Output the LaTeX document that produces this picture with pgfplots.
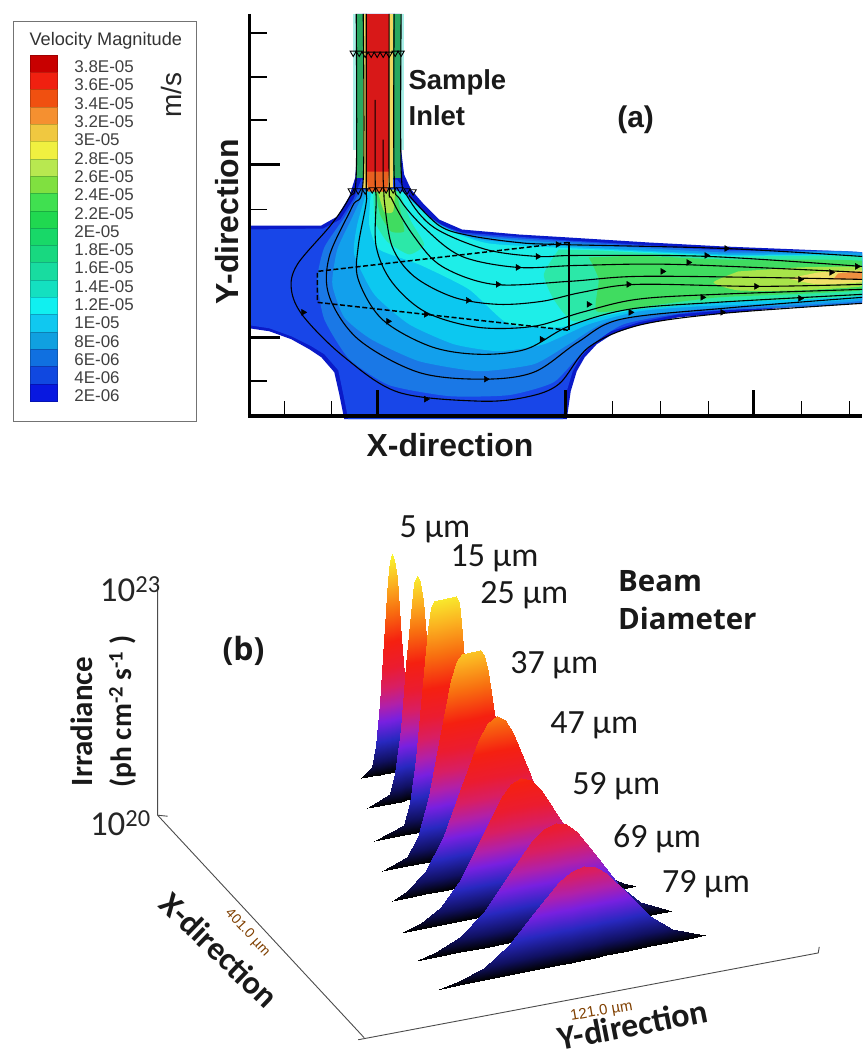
\documentclass[border=0pt]{standalone}
\usepackage{fontspec}
\setmainfont{Liberation Sans}
\newfontfamily\car{Carlito}
\newfontfamily\ops{Open Sans}
\usepackage{pgfplots}
\pgfplotsset{compat=1.18}
\newcommand{\fs}[1]{\fontsize{#1}{#1}\selectfont}
\newcommand{\poly}[2]{\addplot[fill=#1,draw=none,smooth,tension=.35] coordinates {#2} --cycle;}
\newcommand{\pol}[2]{\addplot[fill=#1,draw=none] coordinates {#2} --cycle;}
\newcommand{\rect}[5]{\addplot[fill=#5,draw=none] coordinates {(#1,#2)(#3,#2)(#3,#4)(#1,#4)} --cycle;}
\newcommand{\band}[3]{\addplot[fill=#1,draw=#1!80!black,line width=.4pt] coordinates {(30,#2)(57,#2)(57,#3)(30,#3)} --cycle;}
\newcommand{\sline}[1]{\addplot[black,line width=1.1pt,smooth,tension=.55] coordinates {#1};}
\newcommand{\seg}[5]{\addplot[black,line width=#5] coordinates {(#1,#2)(#3,#4)};}
\newcommand{\leg}[2]{\node[anchor=west,text=black!75,font=\fs{17}] at (axis cs:71,#1) {#2};}
\newcommand{\lab}[3]{\node[anchor=west,font=\car\fs{34},text=black!90] at (axis cs:#1,#2) {#3};}
\newcommand{\peak}[3]{\addplot[surf,shader=interp,mesh/rows=2,mesh/cols=#1,point meta=explicit] coordinates {#2 #3};}
\definecolor{cB}{HTML}{0A1AC8}
\definecolor{cA}{HTML}{1846E8}
\definecolor{cC}{HTML}{1A78E6}
\definecolor{cD}{HTML}{12A0EC}
\definecolor{cE}{HTML}{0CC8F0}
\definecolor{cF}{HTML}{1EEEE8}
\definecolor{cG}{HTML}{2CE8A8}
\definecolor{cH}{HTML}{40DC60}
\definecolor{cI}{HTML}{A8E44A}
\definecolor{cJ}{HTML}{F0E068}
\definecolor{cK}{HTML}{F09040}
\definecolor{iG}{HTML}{28A860}
\definecolor{iY}{HTML}{F0D860}
\definecolor{iR}{HTML}{D81818}
\definecolor{iO}{HTML}{E86020}
\definecolor{iF}{HTML}{A8F0E8}
\definecolor{la}{HTML}{C80000}
\definecolor{lb}{HTML}{F02010}
\definecolor{lc}{HTML}{F05010}
\definecolor{ld}{HTML}{F59030}
\definecolor{le}{HTML}{F0C840}
\definecolor{lf}{HTML}{F0F040}
\definecolor{lg}{HTML}{B8E850}
\definecolor{lh}{HTML}{80E040}
\definecolor{li}{HTML}{40E050}
\definecolor{lj}{HTML}{20D850}
\definecolor{lk}{HTML}{18D868}
\definecolor{ll}{HTML}{18D880}
\definecolor{lm}{HTML}{18DCA0}
\definecolor{ln}{HTML}{14E0C0}
\definecolor{lo}{HTML}{10F0F0}
\definecolor{lp}{HTML}{10C8F0}
\definecolor{lq}{HTML}{10A0E0}
\definecolor{lr}{HTML}{1070E0}
\definecolor{ls}{HTML}{1048E0}
\definecolor{lt}{HTML}{0818E0}
\begin{document}
\begin{tikzpicture}
\begin{axis}[
  scale only axis,width=864pt,height=1055pt,
  xmin=0,xmax=864,ymin=0,ymax=1055,y dir=reverse,
  hide axis,clip mode=individual,
  point meta min=0,point meta max=1,
  colormap={beam}{
    rgb255(0)=(0,0,0) rgb255(.06)=(16,16,96) rgb255(.15)=(40,40,192) rgb255(.24)=(120,32,224) rgb255(.31)=(176,32,170) rgb255(.39)=(216,30,100) rgb255(.48)=(235,28,48) rgb255(.6)=(245,32,16) rgb255(.74)=(248,112,16) rgb255(.86)=(251,176,32) rgb255(1)=(248,248,48)},
]
\addplot[fill=white,draw=none] coordinates {(0,0)(864,0)(864,1055)(0,1055)} --cycle;

% --- legend box
\addplot[draw=black!55,fill=white,line width=1pt] coordinates {(14,22)(197,22)(197,422)(14,422)} --cycle;
\band{la}{55}{72.4}
\band{lb}{72.4}{89.7}
\band{lc}{89.7}{107}
\band{ld}{107}{124.4}
\band{le}{124.4}{141.8}
\band{lf}{141.8}{159.1}
\band{lg}{159.1}{176.5}
\band{lh}{176.5}{193.8}
\band{li}{193.8}{211.2}
\band{lj}{211.2}{228.5}
\band{lk}{228.5}{245.9}
\band{ll}{245.9}{263.2}
\band{lm}{263.2}{280.6}
\band{ln}{280.6}{297.9}
\band{lo}{297.9}{315.3}
\band{lp}{315.3}{332.6}
\band{lq}{332.6}{350}
\band{lr}{350}{367.3}
\band{ls}{367.3}{384.7}
\band{lt}{384.7}{402}
\node[font=\fs{18.2},text=black!80] at (axis cs:106,41) {Velocity Magnitude};
\leg{67}{3.8E-05}\leg{85.3}{3.6E-05}\leg{103.7}{3.4E-05}\leg{122}{3.2E-05}\leg{140.3}{3E-05}
\leg{158.7}{2.8E-05}\leg{177}{2.6E-05}\leg{195.3}{2.4E-05}\leg{213.7}{2.2E-05}\leg{232}{2E-05}
\leg{250.3}{1.8E-05}\leg{268.7}{1.6E-05}\leg{287}{1.4E-05}\leg{305.3}{1.2E-05}\leg{323.7}{1E-05}
\leg{342}{8E-06}\leg{360.3}{6E-06}\leg{378.7}{4E-06}\leg{397}{2E-06}
\node[rotate=90,font=\fs{28},text=black!85] at (axis cs:172,95) {m/s};

% --- panel (a) contour bands
\pol{cB}{(250,226)(322,226)(338,217)(350,197)(356,178)(358,150)(358,14)(401,14)(402,150)(405,175)(412,190)(425,205)(440,220)(463,230)(520,235)(570,238)(650,243)(725,247)(800,250)(870,253)(870,303)(800,307)(725,314)(680,318)(640,326)(615,334)(598,345)(586,358)(578,372)(572,392)(568,420)(345,420)(340,395)(335,373)(322,358)(310,350)(292,340)(270,332)(250,329)}
\pol{cA}{(250,230)(324,229)(341,220)(354,200)(362,180)(398,180)(408,193)(422,209)(438,224)(463,233)(570,241)(725,250)(870,256)(870,300)(725,311)(680,315)(640,323)(612,332)(595,343)(582,358)(574,372)(568,392)(564,420)(349,420)(344,395)(339,371)(325,355)(312,347)(292,337)(270,329)(250,326)}
\poly{cC}{(362,190)(345,218)(325,248)(318,280)(325,320)(350,360)(390,386)(450,397)(510,396)(555,383)(585,352)(625,325)(700,312)(870,302)(870,254)(725,251)(570,242)(463,234)(430,217)(405,195)}
\poly{cD}{(366,190)(352,220)(338,250)(333,285)(345,318)(372,340)(420,362)(480,372)(535,365)(570,345)(610,322)(700,310)(870,300)(870,255)(725,253)(570,244)(470,236)(430,220)(405,193)}
\poly{cE}{(368,190)(358,225)(355,255)(375,295)(410,325)(455,345)(500,352)(545,345)(590,325)(640,312)(700,307)(870,298)(870,257)(725,255)(570,247)(480,240)(435,222)(405,193)}
\poly{cF}{(372,190)(370,225)(380,250)(420,265)(470,290)(510,325)(560,328)(600,318)(650,308)(720,302)(870,295)(870,258)(725,256)(600,250)(490,244)(440,226)(403,192)}
\poly{cG}{(560,250)(545,275)(555,300)(575,322)(620,312)(720,303)(870,295)(870,258)(725,257)(600,251)}
\poly{cG}{(374,190)(376,222)(388,242)(410,255)(425,245)(412,222)(400,192)}
\poly{cH}{(590,258)(600,280)(598,312)(640,308)(720,298)(870,290)(870,262)(725,260)(640,256)}
\poly{cH}{(376,190)(381,215)(392,232)(405,232)(402,215)(397,190)}
\poly{cI}{(740,272)(715,283)(740,291)(800,291)(870,286)(870,268)(800,268)}
\poly{cI}{(378,190)(385,212)(394,212)(396,190)}
\poly{cJ}{(790,279)(820,285)(870,282)(870,271)(820,273)}
\poly{cK}{(835,280)(870,279)(870,272)(840,274)}
% inlet stripes
\rect{354}{14}{405}{150}{iF}
\rect{357}{14}{402}{178}{iG}
\rect{364}{14}{394}{188}{iY}
\rect{367}{14}{390}{172}{iR}
\pol{iO}{(367,172)(390,172)(388,192)(369,192)}
% streamlines
\sline{(357,14)(357,175)(350,198)(332,225)(298,265)(292,290)(304,317)(344,357)(399,393)(480,402)(527,398)(560,385)(590,348)(640,326)(725,314)(864,304)}
\sline{(364,14)(364,180)(353,207)(330,257)(330,297)(359,340)(419,373)(483,380)(535,373)(579,343)(622,320)(725,309)(864,298)}
\sline{(367,14)(367,180)(367,203)(359,247)(359,280)(383,320)(431,347)(479,355)(527,350)(570,327)(630,310)(718,303)(864,295)}
\sline{(376,100)(376,180)(377,200)(377,247)(393,283)(427,313)(479,328)(535,327)(583,313)(638,300)(718,295)(864,290)}
\sline{(384,140)(384,180)(385,200)(393,247)(415,277)(455,298)(499,305)(543,302)(583,293)(638,285)(758,287)(864,285)}
\sline{(390,14)(390,180)(393,200)(415,237)(443,267)(495,285)(570,282)(638,277)(758,278)(864,280)}
\sline{(395,14)(395,175)(401,200)(427,230)(463,257)(519,268)(579,266)(678,265)(864,273)}
\sline{(402,14)(402,170)(409,198)(435,228)(487,250)(539,257)(579,256)(710,257)(864,267)}
\sline{(410,196)(440,226)(470,236)(519,243)(559,245)(726,249)(864,257)}
\addplot[only marks,mark=triangle*,mark size=3.4pt,mark options={rotate=-90,fill=black,draw=black}] coordinates {(539,257)(519,268)(499,285)(469,301)(427,315)(389,322)(304,313)(543,340)(487,380)(427,400)(728,249)(708,256)(690,263)(664,272)(630,285)(590,305)(632,313)(704,298)(758,287)(802,280)(833,273)(859,267)(802,299)(724,313)(559,245)};
\addplot[only marks,mark=triangle,mark size=3.6pt,mark options={rotate=180,draw=black,line width=.9pt}] coordinates {(354,53)(360,53)(366,54)(372,54)(378,54)(384,54)(390,54)(396,53)(402,53)(352,191)(359,191)(366,191)(373,190)(380,190)(387,190)(394,190)(401,190)(408,191)(414,192)};
% dashed box
\addplot[black,line width=1.5pt,dash pattern=on 5pt off 2.5pt] coordinates {(570,243)(318,272)(318,303)(570,331)};
\addplot[black,line width=1.5pt] coordinates {(570,243)(570,331)};
% axes of (a)
\seg{250}{14}{250}{418}{3.4pt}
\seg{248.5}{417}{864}{417}{3.4pt}
\seg{250}{33}{268}{33}{1.6pt}\seg{250}{77}{268}{77}{1.6pt}\seg{250}{120}{268}{120}{1.6pt}
\seg{250}{165}{281}{165}{3pt}\seg{250}{210}{268}{210}{1.6pt}\seg{250}{338}{281}{338}{3.2pt}\seg{250}{382}{268}{382}{1.6pt}
\seg{285}{417}{285}{402}{1.2pt}\seg{332}{417}{332}{402}{1.2pt}\seg{378}{417}{378}{391}{3.2pt}
\seg{567}{417}{567}{391}{3.2pt}\seg{614}{417}{614}{402}{1.2pt}\seg{662}{417}{662}{402}{1.2pt}\seg{710}{417}{710}{402}{1.2pt}
\seg{755}{417}{755}{391}{3.2pt}\seg{803}{417}{803}{402}{1.2pt}\seg{851}{417}{851}{402}{1.2pt}
\node[rotate=90,font=\bfseries\fs{32},text=black!90] at (axis cs:228,222) {Y-direction};
\node[font=\bfseries\fs{32},text=black!90] at (axis cs:451,446) {X-direction};
\node[anchor=west,font=\bfseries\fs{27.5},text=black!90] at (axis cs:406,83) {Sample};
\node[anchor=west,font=\bfseries\fs{27.5},text=black!90] at (axis cs:406,116) {Inlet};
\node[font=\bfseries\fs{30},text=black!90] at (axis cs:637,120) {(a)};

% --- panel (b) axes
\addplot[black!70,line width=.9pt] coordinates {(158,585)(158,817)(365,1040)};
\addplot[black!70,line width=.9pt] coordinates {(359,1042)(820,955)(821,949)};
\addplot[black!70,line width=.9pt] coordinates {(158,817)(168,818)};
\node[anchor=west,font=\car\fs{35},text=black!85,inner sep=0pt] at (axis cs:100,590) {10\textsuperscript{23}};
\node[anchor=west,font=\car\fs{35},text=black!85,inner sep=0pt] at (axis cs:90,825) {10\textsuperscript{20}};
\node[rotate=90,font=\car\bfseries\fs{31},text=black!90] at (axis cs:82,723) {Irradiance};
\node[rotate=90,font=\car\bfseries\fs{29.5},text=black!90] at (axis cs:123,713) {(ph cm\textsuperscript{-2} s\textsuperscript{-1} )};
\node[font=\ops\bfseries\fs{32},text=black!90] at (axis cs:244,652) {(b)};
\node[rotate=-44,font=\car\bfseries\fs{33},text=black!90] at (axis cs:220,952) {X-direction};
\node[rotate=-47,font=\fs{14},text=orange!50!black] at (axis cs:248,935) {401.0 µm};
\node[rotate=11,font=\car\bfseries\fs{34},text=black!90] at (axis cs:634,1027) {Y-direction};
\node[rotate=10,font=\fs{15},text=orange!50!black] at (axis cs:603,1014) {121.0 µm};
\node[anchor=west,font=\ops\bfseries\fs{29.5},text=black!90] at (axis cs:616,582) {Beam};
\node[anchor=west,font=\ops\bfseries\fs{29.5},text=black!90] at (axis cs:616,620) {Diameter};

% --- beam peaks, back to front
\peak{15}{(362,780)[0](373,777.8)[0](377,777)[0](381,776.2)[0](385,775.4)[0](389,774.6)[0](391,774.2)[0](393,773.8)[0](395,773.3)[0](397.5,772.9)[0](402,772)[0](406.5,771.1)[0](411,770.2)[0](415.5,769.3)[0](420,768.4)[0]}
{(362,780)[0](373,768.2)[.044](377,747.4)[.135](381,705)[.325](385,642.5)[.607](389,581.4)[.882](391,562)[.969](393,554.8)[1](395,561.1)[.969](397.5,579.7)[.882](402,639.1)[.607](406.5,699.9)[.325](411,740.6)[.135](415.5,759.7)[.044](420,768.4)[0]}
\peak{15}{(368,810)[0](390.5,805.5)[0](396,804.4)[0](401.5,803.3)[0](407,802.2)[0](412.5,801.1)[0](415.25,800.6)[0](418,800)[0](420.75,799.5)[0](423.5,798.9)[0](429,797.8)[0](434.5,796.7)[0](440,795.6)[0](445.5,794.5)[0](451,793.4)[0]}
{(368,810)[0](390.5,795.7)[.043](396,774.3)[.132](401.5,730.8)[.319](407,666.8)[.595](412.5,604.4)[.864](415.25,584.5)[.95](418,577)[.98](420.75,583.4)[.95](423.5,602.2)[.864](429,662.4)[.595](434.5,724.2)[.319](440,765.5)[.132](445.5,784.7)[.043](451,793.4)[0]}
\peak{16}{(375,843)[0](405,837)[0](411,835.8)[0](417,834.6)[0](423,833.4)[0](429,832.2)[0](432,831.6)[0](435,831)[0](457,826.6)[0](459.5,826.1)[0](462,825.6)[0](467,824.6)[0](472,823.6)[0](477,822.6)[0](482,821.6)[0](490,820)[0]}
{(375,843)[0](405,826.9)[.043](411,804.9)[.131](417,760.2)[.315](423,694.4)[.589](429,630.2)[.856](432,609.7)[.94](435,602)[.97](457,597.6)[.97](459.5,604.2)[.94](462,623.6)[.856](467,685.6)[.589](472,749.2)[.315](477,791.7)[.131](482,811.5)[.043](490,820)[0]}
\peak{16}{(383,873)[0](408,868)[0](419,865.8)[0](430,863.6)[0](441,861.4)[0](452,859.2)[0](457.5,858.1)[0](463,857)[0](481,853.4)[0](485,852.6)[0](489,851.8)[0](497,850.2)[0](505,848.6)[0](513,847)[0](521,845.4)[0](530,843.6)[0]}
{(383,873)[0](408,859.1)[.04](419,838.5)[.122](430,797.9)[.293](441,738.8)[.546](452,681)[.794](457.5,662.4)[.872](463,655)[.9](481,651.4)[.9](485,656.9)[.872](489,673.6)[.794](497,727.6)[.546](505,782.9)[.293](513,819.7)[.122](521,836.5)[.04](530,843.6)[0]}
\peak{15}{(393,903)[0](408,900)[0](426,896.4)[0](444,892.8)[0](462,889.2)[0](480,885.6)[0](489,883.8)[0](498,882)[0](506.25,880.4)[0](514.5,878.7)[0](531,875.4)[0](547.5,872.1)[0](564,868.8)[0](580.5,865.5)[0](597,862.2)[0]}
{(393,903)[0](408,892.8)[.033](426,874.3)[.103](444,839.5)[.247](462,789.7)[.461](480,741)[.67](489,724.9)[.736](498,718)[.76](506.25,721.5)[.736](514.5,734.1)[.67](531,775.9)[.461](547.5,818.8)[.247](564,846.7)[.103](580.5,858.3)[.033](597,862.2)[0]}
\peak{15}{(402,935)[0](422,931)[0](442,927)[0](462,923)[0](482,919)[0](502,915)[0](512,913)[0](522,911)[0](532,909)[0](542.5,906.9)[0](563,902.8)[0](583.5,898.7)[0](604,894.6)[0](624.5,890.5)[0](637,888)[0]}
{(402,935)[0](422,925.2)[.027](442,909.3)[.084](462,880.4)[.2](482,839.5)[.376](502,799.5)[.547](512,786.1)[.6](522,780)[.62](532,782.1)[.6](542.5,791.4)[.547](563,823.3)[.376](583.5,856.1)[.2](604,877)[.084](624.5,884.7)[.027](637,888)[0]}
\peak{15}{(417,963)[0](437,959.1)[0](461,954.4)[0](485,949.7)[0](509,945.1)[0](533,940.4)[0](545,938)[0](557,935.7)[0](567.5,933.7)[0](578,931.6)[0](599,927.5)[0](620,923.4)[0](641,919.3)[0](662,915.2)[0](673,913)[0]}
{(417,963)[0](437,954.2)[.022](461,939.4)[.068](485,913.6)[.163](509,877.7)[.304](533,842.5)[.441](545,830.4)[.485](557,824.7)[.5](567.5,826.1)[.485](578,833.7)[.441](599,860.1)[.304](620,887.3)[.163](641,904.3)[.068](662,910.3)[.022](673,913)[0]}
\peak{15}{(438,992)[0](460,987.5)[0](485,982.4)[0](510,977.3)[0](535,972.2)[0](560,967.1)[0](572.5,964.6)[0](585,962)[0](596,959.8)[0](607,957.5)[0](629,953)[0](651,948.5)[0](673,944)[0](695,939.6)[0](707,937.1)[0]}
{(438,992)[0](460,983.4)[.018](485,969.7)[.057](510,946.7)[.137](535,915.1)[.255](560,884.2)[.37](572.5,873.5)[.407](585,868)[.42](596,868.7)[.407](607,874.6)[.37](629,895.9)[.255](651,917.9)[.137](673,931.3)[.057](695,935.5)[.018](707,937.1)[0]}

% --- beam labels
\lab{397}{530}{5 µm}\lab{448}{560}{15 µm}\lab{478}{597}{25 µm}\lab{508}{667}{37 µm}
\lab{548}{727}{47 µm}\lab{570}{788}{59 µm}\lab{611}{841}{69 µm}\lab{660}{886}{79 µm}
\end{axis}
\end{tikzpicture}
\end{document}
